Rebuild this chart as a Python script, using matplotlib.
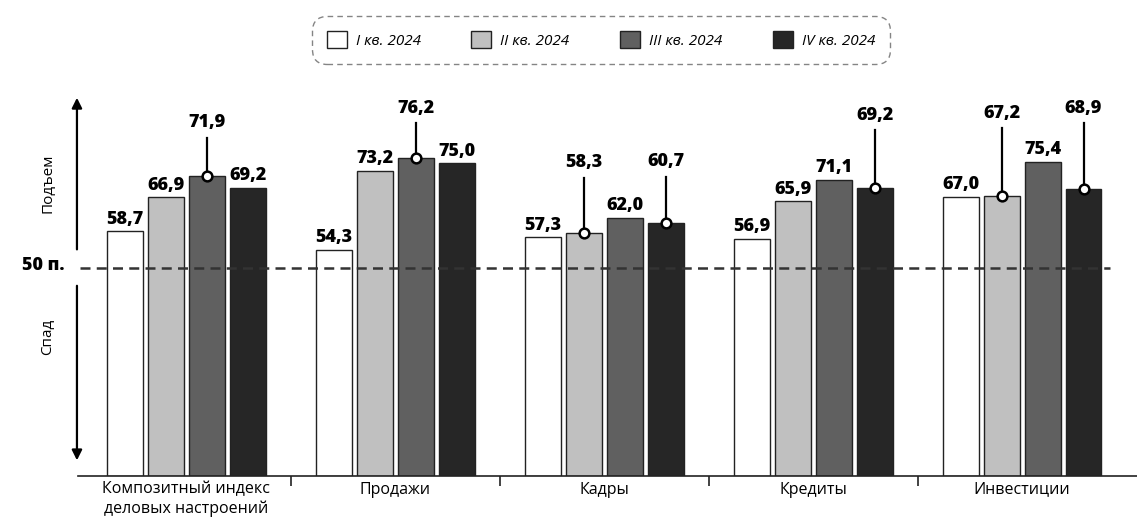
import matplotlib.pyplot as plt
import numpy as np
from matplotlib.patches import Patch

plt.rcParams['font.family'] = ['Open Sans', 'DejaVu Sans']

categories = ['Композитный индекс\nделовых настроений', 'Продажи', 'Кадры', 'Кредиты', 'Инвестиции']
quarters = ['I кв. 2024', 'II кв. 2024', 'III кв. 2024', 'IV кв. 2024']
q1 = [58.7, 54.3, 57.3, 56.9, 67.0]
q2 = [66.9, 73.2, 58.3, 65.9, 67.2]
q3 = [71.9, 76.2, 62.0, 71.1, 75.4]
q4 = [69.2, 75.0, 60.7, 69.2, 68.9]
threshold = 50

colors = ['#ffffff', '#c0c0c0', '#606060', '#262626']
# (group, quarter) -> height of the lifted label
callouts = {(0, 2): 84.7, (1, 2): 88.2, (2, 1): 75.1, (2, 3): 75.4,
            (3, 3): 86.6, (4, 1): 87.0, (4, 3): 88.2}

bold = dict(fontweight=800, fontsize=13)

W, H = 1137, 525
fig = plt.figure(figsize=(W / 100, H / 100), dpi=100)
ax = fig.add_axes([78 / W, (H - 476) / H, (W - 78) / W, 396 / H])
ax.set_ylim(0, 95)
ax.set_xlim(-0.519, 4.55)

x = np.arange(len(categories))
pitch, width = 0.196, 0.172
series = [q1, q2, q3, q4]
for j, vals in enumerate(series):
    xs = x + (j - 1.5) * pitch
    ax.bar(xs, vals, width=width, color=colors[j], edgecolor='#222222', linewidth=1.0, zorder=2)
    for i, v in enumerate(vals):
        txt = f'{v:.1f}'.replace('.', ',')
        if (i, j) in callouts:
            ly = callouts[(i, j)]
            ax.plot([xs[i], xs[i]], [v, ly - 3.6], color='black', lw=1.6, zorder=4)
            ax.plot(xs[i], v, 'o', ms=7, mfc='white', mec='black', mew=1.8, zorder=5)
            ax.text(xs[i], ly, txt, ha='center', va='center', zorder=5, **bold)
        else:
            ax.annotate(txt, (xs[i], v), xytext=(0, 2.5), textcoords='offset points',
                        ha='center', va='bottom', **bold)

ax.plot([-0.51, 4.42], [threshold, threshold], color='#333333', lw=1.8, dashes=(4, 2.5), zorder=3)

for s in ['top', 'right', 'left']:
    ax.spines[s].set_visible(False)
ax.spines['bottom'].set_color('#222222')
ax.spines['bottom'].set_linewidth(1.2)
ax.set_yticks([])
ax.set_xticks(x, categories, fontsize=11.5)
ax.tick_params(axis='x', length=0, pad=4)
ax.set_xticks(x[:-1] + 0.5, minor=True)
ax.tick_params(axis='x', which='minor', length=7, width=1.2, color='#222222')

xa = -0.524
ax.annotate('', xy=(xa, 91.4), xytext=(xa, 53.7),
            arrowprops=dict(arrowstyle='-|>', color='black', lw=1.6, mutation_scale=15),
            annotation_clip=False)
ax.annotate('', xy=(xa, 3.1), xytext=(xa, 46.3),
            arrowprops=dict(arrowstyle='-|>', color='black', lw=1.6, mutation_scale=15),
            annotation_clip=False)

fig.text(48 / W, 1 - 183 / H, 'Подъем', rotation=90, ha='center', va='center', fontsize=11)
fig.text(48 / W, 1 - 337 / H, 'Спад', rotation=90, ha='center', va='center', fontsize=11)
fig.text(64 / W, 1 - 266 / H, '50 п.', ha='right', va='center', **bold)

handles = [Patch(facecolor=c, edgecolor='#222222', linewidth=1.0) for c in colors]
leg = fig.legend(handles, quarters, loc='center', bbox_to_anchor=(601 / W, 1 - 40 / H), ncol=4,
                 frameon=True, fancybox=True, prop={'style': 'italic', 'size': 11},
                 handlelength=1.3, handleheight=1.3, handletextpad=0.6, columnspacing=3.3,
                 borderpad=1.0, borderaxespad=0)
frame = leg.get_frame()
frame.set_edgecolor('#666666')
frame.set_linestyle((0, (4, 3)))
frame.set_linewidth(1.0)
frame.set_boxstyle('round,pad=0,rounding_size=1.0')

fig.savefig('out.png', dpi=100)
